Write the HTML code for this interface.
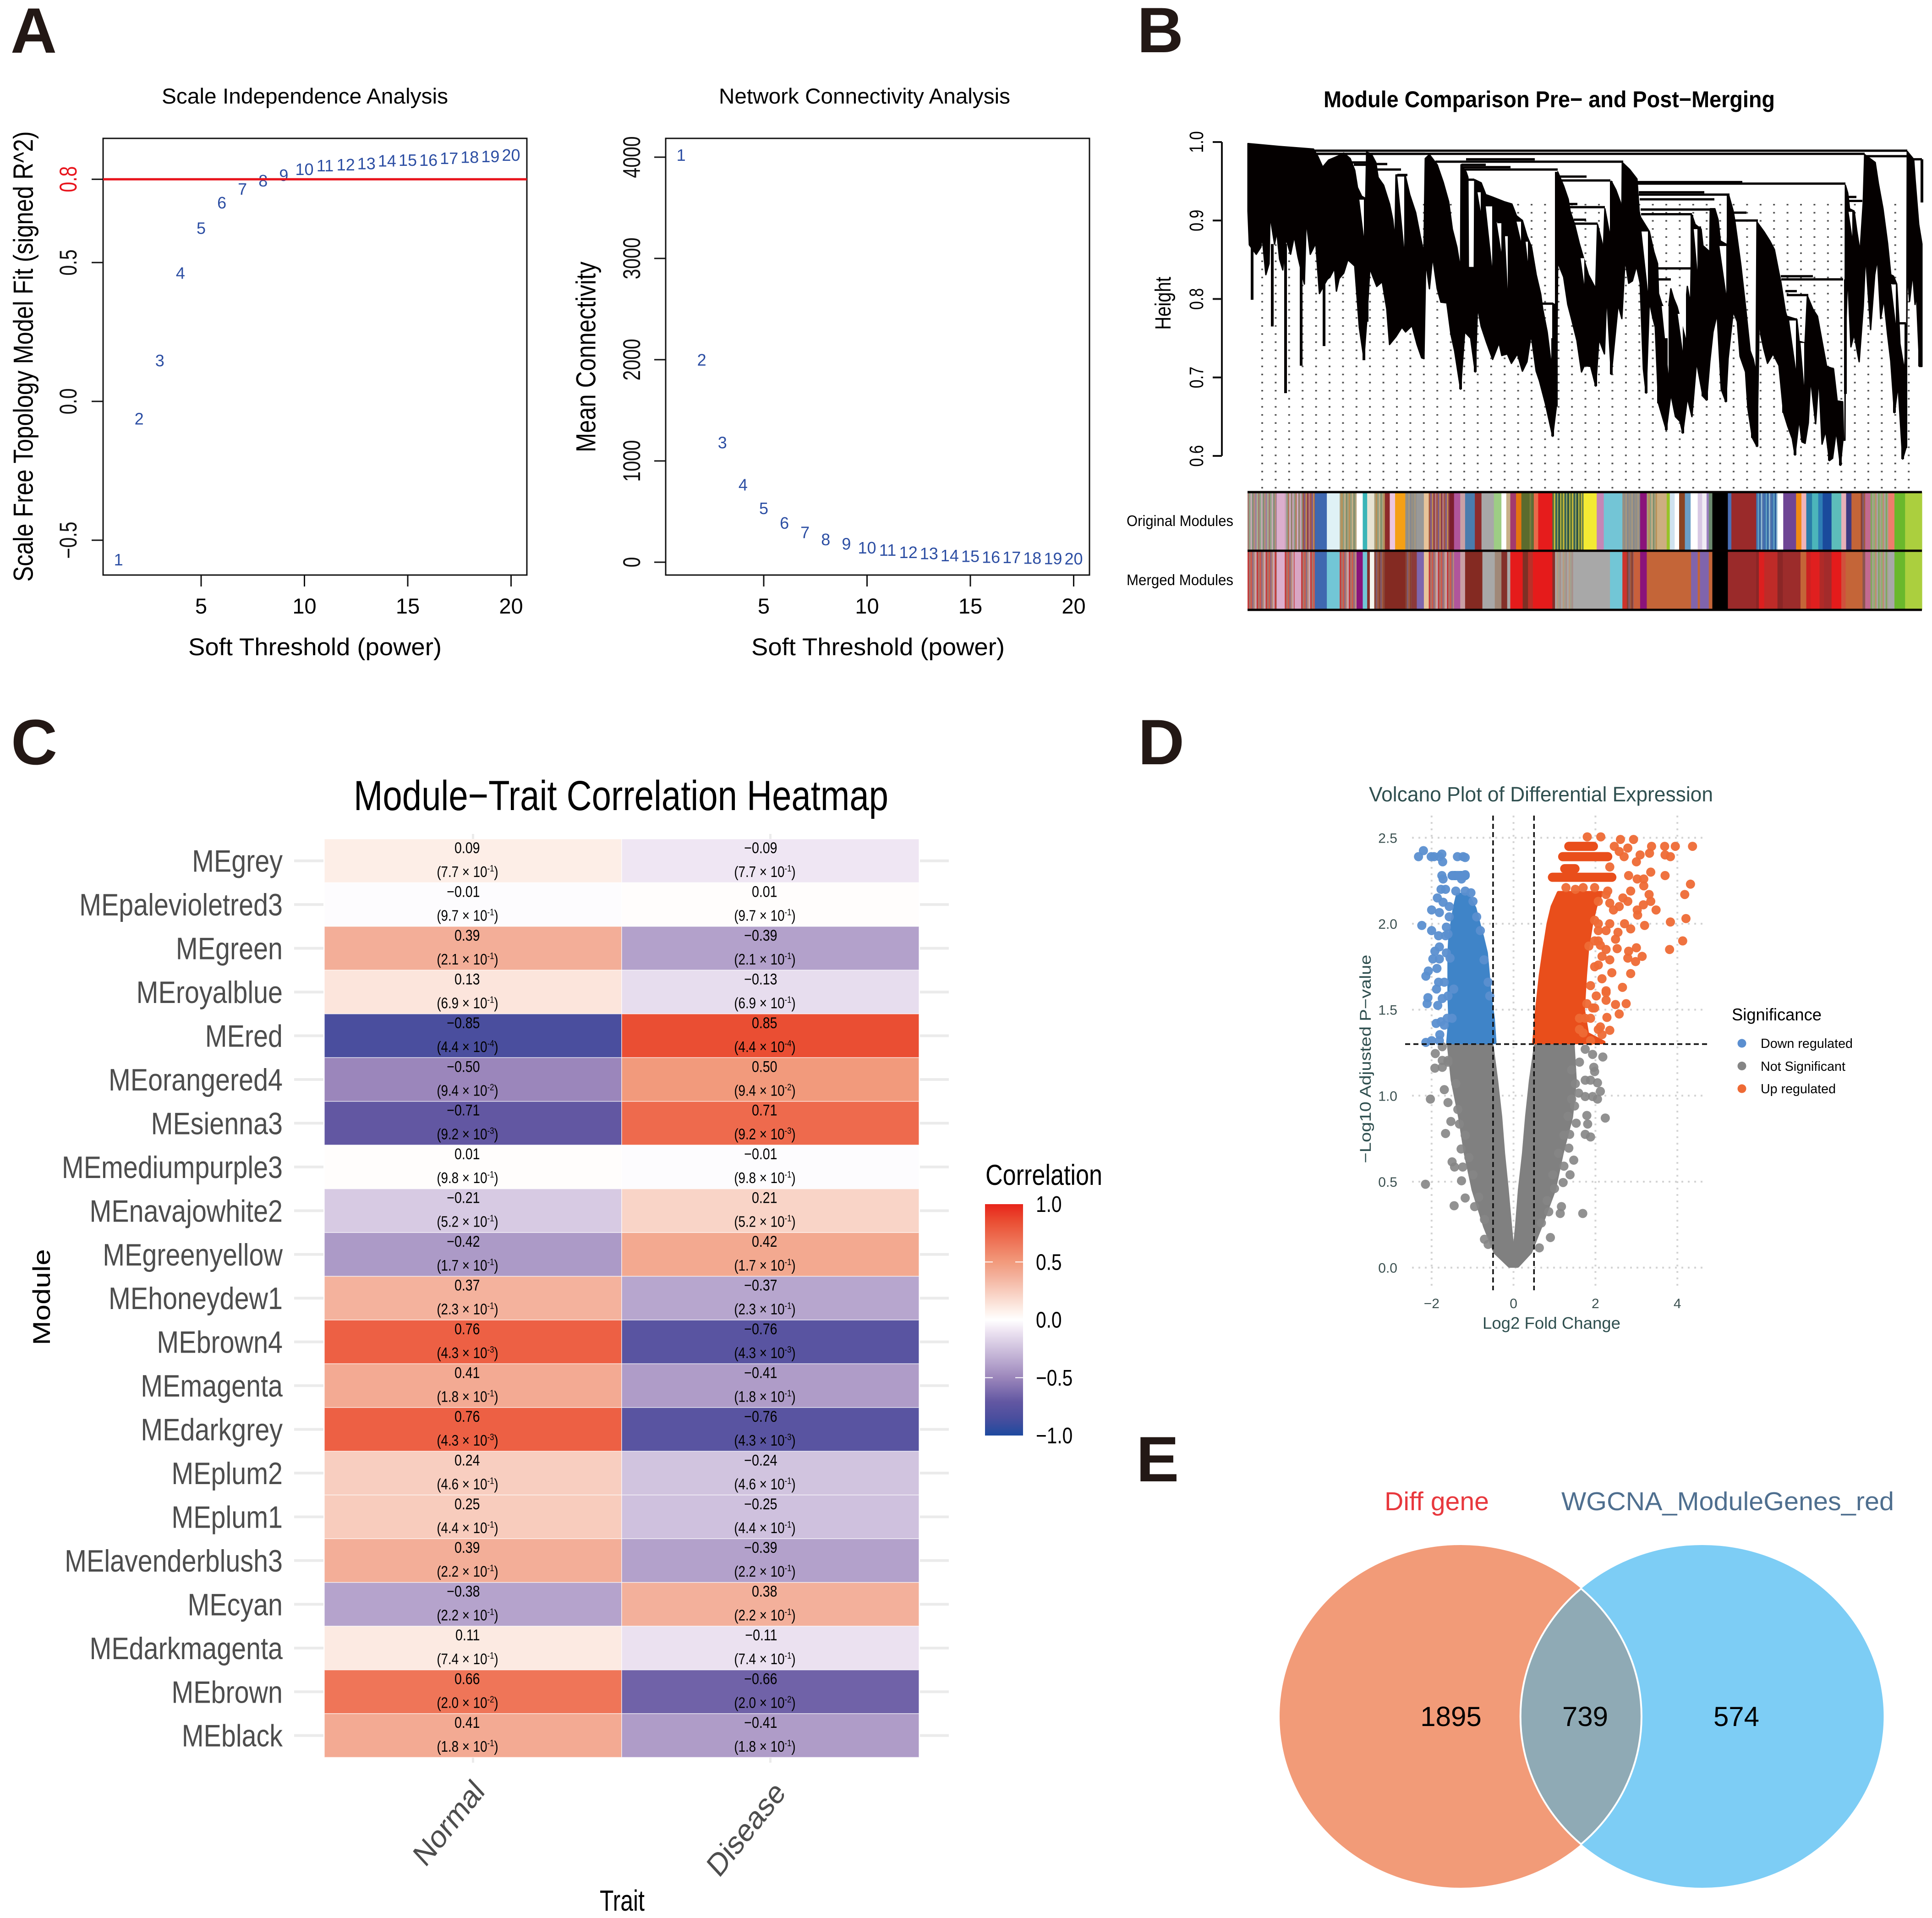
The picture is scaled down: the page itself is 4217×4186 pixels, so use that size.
<!DOCTYPE html>
<html lang="en">
<head>
<meta charset="utf-8">
<title>WGCNA and differential expression figure</title>
<style>
html,body{margin:0;padding:0;background:#fff;}
svg{display:block;}
svg text{font-family:"Liberation Sans",sans-serif;}
.letter{font-size:140px;font-weight:700;fill:#231815;}
</style>
</head>
<body>
<svg id="fig" xmlns="http://www.w3.org/2000/svg" width="4217" height="4186" viewBox="0 0 4217 4186">
<defs>
<linearGradient id="corrGrad" x1="0" y1="0" x2="0" y2="1">
<stop offset="0" stop-color="#e8241a"/><stop offset=".075" stop-color="#ea4e33"/><stop offset=".25" stop-color="#f29a7c"/><stop offset=".305" stop-color="#f3ae98"/><stop offset=".455" stop-color="#fdeee7"/><stop offset=".5" stop-color="#ffffff"/><stop offset=".545" stop-color="#efe6f3"/><stop offset=".695" stop-color="#b3a1cb"/><stop offset=".75" stop-color="#9b86bb"/><stop offset=".855" stop-color="#6257a2"/><stop offset=".925" stop-color="#4a4e9e"/><stop offset="1" stop-color="#1e4a9f"/>
</linearGradient>
</defs>
<rect x="0" y="0" width="4217" height="4186" fill="#fff"/>

<text class="letter" x="23" y="115">A</text>
<text class="letter" x="2482" y="114">B</text>
<text class="letter" x="24" y="1668">C</text>
<text class="letter" x="2484" y="1668">D</text>
<text class="letter" x="2480" y="3233">E</text>

<!-- Panel A -->
<g id="a1">
<text x="353" y="226" font-size="47" textLength="625" lengthAdjust="spacingAndGlyphs">Scale Independence Analysis</text>
<text x="411" y="1430" font-size="53" textLength="553" lengthAdjust="spacingAndGlyphs">Soft Threshold (power)</text>
<text transform="translate(50,778) scale(1.2,1) rotate(-90)" y="18" text-anchor="middle" font-size="50" textLength="983" lengthAdjust="spacingAndGlyphs">Scale Free Topology Model Fit (signed R^2)</text>
</g>
<g id="a2">
<text x="1569" y="226" font-size="47" textLength="636" lengthAdjust="spacingAndGlyphs">Network Connectivity Analysis</text>
<text x="1640" y="1430" font-size="53" textLength="553" lengthAdjust="spacingAndGlyphs">Soft Threshold (power)</text>
<text transform="translate(1278,779) scale(1.2,1) rotate(-90)" y="18" text-anchor="middle" font-size="50" textLength="416" lengthAdjust="spacingAndGlyphs">Mean Connectivity</text>
</g>

<!-- Panel B -->
<g id="b">
<text x="2889" y="234" font-size="50" font-weight="700" textLength="985" lengthAdjust="spacingAndGlyphs">Module Comparison Pre− and Post−Merging</text>
<text transform="translate(2538,662) scale(1.2,1) rotate(-90)" y="14" text-anchor="middle" font-size="40">Height</text>
<text x="2692" y="1148" text-anchor="end" font-size="33" textLength="233" lengthAdjust="spacingAndGlyphs">Original Modules</text>
<text x="2692" y="1277" text-anchor="end" font-size="33" textLength="233" lengthAdjust="spacingAndGlyphs">Merged Modules</text>
</g>

<!-- Panel C -->
<g id="c">
<text x="772" y="1768" font-size="92" textLength="1167" lengthAdjust="spacingAndGlyphs">Module−Trait Correlation Heatmap</text>
<text transform="translate(91,2831) scale(.82,1) rotate(-90)" y="22" text-anchor="middle" font-size="64">Module</text>
<text x="1309" y="4170" font-size="64" textLength="98" lengthAdjust="spacingAndGlyphs">Trait</text>
<text x="2151" y="2586" font-size="63" textLength="255" lengthAdjust="spacingAndGlyphs">Correlation</text>
<rect x="2150" y="2628" width="83" height="505" fill="url(#corrGrad)"/>
</g>

<!-- Panel D -->
<g id="d"></g>
<g>
<text x="2988" y="1749" font-size="45" fill="#2f4f4f" textLength="751" lengthAdjust="spacingAndGlyphs">Volcano Plot of Differential Expression</text>
<text x="3236" y="2900" font-size="36" fill="#2f4f4f" textLength="301" lengthAdjust="spacingAndGlyphs">Log2 Fold Change</text>
<text transform="translate(2980,2311) rotate(-90)" y="12" text-anchor="middle" font-size="34" fill="#2f4f4f" textLength="455" lengthAdjust="spacingAndGlyphs">−Log10 Adjusted P−value</text>
<text x="3780" y="2227" font-size="37" textLength="196" lengthAdjust="spacingAndGlyphs">Significance</text>
<text x="3843" y="2287" font-size="29" textLength="201" lengthAdjust="spacingAndGlyphs">Down regulated</text>
<text x="3843" y="2337" font-size="29" textLength="185" lengthAdjust="spacingAndGlyphs">Not Significant</text>
<text x="3843" y="2386" font-size="29" textLength="164" lengthAdjust="spacingAndGlyphs">Up regulated</text>
<circle cx="3802" cy="2277" r="9.5" fill="#5b8fd0"/>
<circle cx="3802" cy="2326.5" r="9.5" fill="#858585"/>
<circle cx="3802" cy="2376" r="9.5" fill="#ee6a35"/>
</g>

<!-- Panel E -->
<g id="e">
<text x="3022" y="3296" font-size="57" fill="#e8383d" textLength="228" lengthAdjust="spacingAndGlyphs">Diff gene</text>
<text x="3408" y="3296" font-size="57" fill="#4f6f8f" textLength="726" lengthAdjust="spacingAndGlyphs">WGCNA_ModuleGenes_red</text>
<ellipse cx="3188" cy="3746" rx="395" ry="374" fill="#f29b78"/>
<ellipse cx="3715.5" cy="3746" rx="396" ry="374" fill="#7dcdf5"/>
<path d="M3451 3467 A395 374 0 0 1 3451 4025 A396 374 0 0 1 3451 3467 Z" fill="#8faab5" stroke="#fff" stroke-width="4"/>
<text x="3167" y="3767" text-anchor="middle" font-size="60">1895</text>
<text x="3460" y="3767" text-anchor="middle" font-size="60">739</text>
<text x="3790" y="3767" text-anchor="middle" font-size="60">574</text>
</g>
</svg>

<script>
const NS='http://www.w3.org/2000/svg';
function el(tag,attrs,parent,text){
  const e=document.createElementNS(NS,tag);
  for(const k in attrs)e.setAttribute(k,attrs[k]);
  if(text!==undefined)e.textContent=text;
  parent.appendChild(e);
  return e;
}
</script>

<script>
/* Panel A data */
const softPowers=[1,2,3,4,5,6,7,8,9,10,11,12,13,14,15,16,17,18,19,20];
const scaleFitR2=[-0.569,-0.062,0.148,0.463,0.625,0.716,0.766,0.795,0.815,0.837,0.85,0.853,0.857,0.867,0.87,0.87,0.876,0.88,0.883,0.888];
const meanConnectivity=[4022,2000,1183,768,534,390,296,227,183,144,122,100,89,69,61,53,50,44,39,36];
const powerTicks=[5,10,15,20];
const fitTicks=[-0.5,0,0.5,0.8];
const fitTickLabels=['−0.5','0.0','0.5','0.8'];
const connectivityTicks=[0,1000,2000,3000,4000];
const connectivityTickLabels=['0','1000','2000','3000','4000'];
const r2Cutoff=[0.8];

function drawSoftPlot(g,left,xs,ys,values,yTicks,yLabels,labelX){
  const frame=el('rect',{x:left,y:302,width:925,height:953,fill:'none',stroke:'#111','stroke-width':3},g);
  
  
  powerTicks.forEach(v=>{
    const t=el('line',{x1:xs(v),x2:xs(v),y1:1255,y2:1280,stroke:'#111','stroke-width':3},g);
    
    
    const l=el('text',{x:xs(v),y:1339,'text-anchor':'middle','font-size':47},g,String(v));
    
    
  });
  yTicks.forEach((v,i)=>{
    const t=el('line',{x1:left-25,x2:left,y1:ys(v),y2:ys(v),stroke:'#111','stroke-width':3},g);
    
    
    const isCut=r2Cutoff.includes(v)&&left<1000;
    const l=el('text',{transform:'translate('+labelX+','+ys(v)+') scale(1.28,1) rotate(-90)',y:15,'text-anchor':'middle','font-size':41,fill:isCut?'#e8141c':'#111'},g,yLabels[i]);
    
    
  });
  softPowers.forEach((p,i)=>{
    const t=el('text',{x:xs(p),y:ys(values[i])+13,'text-anchor':'middle','font-size':36,fill:'#2c4ea3'},g,String(p));
    
    
  });
}
const xFit=v=>439+(v-5)*45.1;
const yFit=v=>876-606*v;
const xConn=v=>1667+(v-5)*45.1;
const yConn=v=>1227-0.221*v;
drawSoftPlot(document.getElementById('a1'),225,xFit,yFit,scaleFitR2,fitTicks,fitTickLabels,148);
drawSoftPlot(document.getElementById('a2'),1453,xConn,yConn,meanConnectivity,connectivityTicks,connectivityTickLabels,1378);
const cutoffLine=el('line',{x1:225,x2:1150,y1:yFit(r2Cutoff[0]),y2:yFit(r2Cutoff[0]),stroke:'#e8141c','stroke-width':5},document.getElementById('a1'));


</script>

<script>
/* Panel B data: leaf order along the tree, merge height on the y axis */
const dendroHeightTicks=[0.6,0.7,0.8,0.9,1.0];
const dendroTop=[[0,.998],[76,.994],[143,.991],[153,.981],[163,.968],[176,.977],[196,.982],[209,.986],[223,.979],[233,.964],[239,.942],[248,.931],[257,.928],[259,.987],[269,.985],[279,.974],[284,.955],[296,.945],[309,.921],[316,.901],[321,.874],[323,.958],[343,.958],[353,.933],[366,.910],[376,.880],[384,.858],[387,.979],[396,.984],[413,.971],[426,.949],[438,.924],[446,.889],[456,.866],[464,.837],[465,.971],[476,.962],[480,.955],[481,.84],[494,.84],[495,.952],[509,.948],[519,.933],[533,.930],[559,.924],[576,.921],[586,.906],[599,.900],[609,.880],[619,.866],[629,.831],[639,.806],[643,.788],[653,.758],[659,.730],[666,.700],[667,.794],[673,.778],[676,.962],[689,.944],[699,.927],[703,.912],[713,.895],[723,.871],[733,.851],[743,.831],[759,.813],[763,.895],[773,.871],[775,.85],[779,.915],[791,.877],[793,.950],[803,.939],[813,.923],[816,.90],[817,.974],[833,.965],[849,.953],[854,.910],[857,.904],[876,.886],[886,.860],[894,.845],[896,.807],[903,.794],[916,.778],[923,.813],[929,.801],[943,.781],[953,.775],[959,.816],[966,.793],[969,.907],[976,.895],[989,.889],[993,.868],[1008,.86],[1009,.915],[1019,.915],[1026,.901],[1031,.874],[1046,.869],[1049,.933],[1059,.912],[1063,.898],[1076,.842],[1086,.790],[1096,.734],[1103,.723],[1109,.705],[1111,.898],[1126,.886],[1139,.874],[1149,.863],[1159,.833],[1163,.822],[1173,.784],[1176,.778],[1198,.774],[1203,.746],[1216,.744],[1221,.804],[1233,.787],[1243,.778],[1253,.746],[1263,.714],[1278,.711],[1286,.670],[1298,.669],[1300,.62],[1303,.62],[1304,.945],[1309,.935],[1313,.915],[1323,.912],[1329,.886],[1336,.860],[1343,.924],[1346,.984],[1369,.974],[1376,.947],[1386,.915],[1396,.871],[1403,.831],[1409,.829],[1416,.819],[1421,.769],[1423,.743],[1433,.708],[1438,.769],[1439,.988],[1453,.978],[1456,.953],[1464,.895],[1471,.87]];
const dendroBottom=[[0,.912],[3,.869],[18,.857],[28,.866],[31,.880],[39,.831],[46,.845],[48,.907],[58,.87],[63,.886],[69,.851],[76,.837],[83,.877],[93,.857],[101,.880],[109,.854],[123,.819],[127,.901],[136,.857],[148,.871],[156,.807],[173,.825],[179,.828],[189,.839],[193,.810],[199,.826],[209,.833],[218,.850],[233,.842],[243,.764],[253,.724],[259,.771],[266,.839],[273,.828],[281,.816],[293,.822],[303,.787],[309,.742],[323,.752],[336,.764],[344,.758],[358,.766],[369,.742],[379,.725],[384,.724],[388,.848],[396,.813],[403,.854],[413,.813],[421,.796],[434,.795],[443,.755],[451,.734],[464,.685],[473,.758],[486,.750],[496,.707],[501,.790],[509,.765],[521,.744],[534,.723],[548,.744],[554,.728],[566,.730],[575,.718],[588,.730],[599,.708],[609,.720],[618,.755],[629,.708],[636,.696],[649,.667],[665,.625],[673,.663],[676,.847],[689,.828],[698,.793],[706,.775],[718,.747],[728,.707],[734,.715],[748,.714],[759,.689],[766,.749],[778,.730],[783,.807],[793,.704],[808,.793],[816,.775],[823,.851],[831,.820],[839,.823],[848,.842],[856,.82],[863,.711],[869,.680],[876,.797],[884,.775],[889,.764],[896,.667],[913,.633],[923,.679],[933,.650],[943,.644],[949,.629],[959,.674],[969,.650],[979,.720],[993,.676],[1001,.671],[1008,.720],[1015,.758],[1024,.781],[1033,.685],[1043,.669],[1048,.724],[1059,.784],[1068,.771],[1074,.727],[1086,.707],[1091,.661],[1101,.623],[1111,.612],[1116,.784],[1119,.755],[1126,.736],[1134,.718],[1146,.730],[1159,.715],[1169,.655],[1178,.638],[1188,.622],[1194,.601],[1203,.647],[1209,.618],[1216,.616],[1223,.642],[1228,.699],[1239,.641],[1246,.701],[1253,.615],[1261,.632],[1269,.594],[1276,.597],[1284,.632],[1293,.588],[1299,.623],[1303,.62],[1304,.75],[1309,.833],[1316,.739],[1323,.755],[1334,.720],[1343,.791],[1348,.857],[1359,.761],[1368,.831],[1374,.851],[1381,.775],[1388,.800],[1396,.755],[1403,.721],[1411,.655],[1419,.690],[1429,.596],[1436,.610],[1439,.837],[1444,.797],[1451,.833],[1456,.793],[1459,.807],[1466,.714],[1471,.714]];
const dendroSpikes=[[9,.87,.799],[53,.87,.765],[82,.87,.680],[116,.85,.715],[166,.85,.740],[253,.85,.722],[260,.84,.771],[464,.80,.685],[496,.80,.707],[665,.75,.625],[673,.962,.663],[759,.78,.689],[793,.95,.704],[869,.80,.680],[896,.80,.667],[913,.75,.633],[949,.72,.629],[993,.75,.676],[1001,.75,.671],[1043,.75,.669],[1111,.70,.612],[1101,.70,.623],[1169,.75,.655],[1194,.70,.601],[1269,.65,.594],[1293,.65,.588],[1304,.825,.679],[1411,.72,.655],[1429,.70,.596],[1436,.769,.610],[1466,.85,.714],[1471,.978,.923],[969,.907,.839],[1048,.933,.86],[667,.794,.68]];
/* open wedges under merges: [left order, right order, upper height, lower height] */
const dendroGaps=[[243,253,.927,.880],[326,341,.956,.866],[501,508,.936,.912],[519,533,.918,.842],[543,553,.898,.860],[561,567,.880,.813],[586,596,.899,.874],[606,611,.873,.848],[726,734,.852,.819],[859,873,.886,.810],[903,918,.791,.705],[928,956,.813,.75],[938,949,.781,.734],[973,981,.889,.837],[1029,1044,.868,.807],[1181,1196,.774,.711],[1206,1214,.744,.690],[1311,1319,.911,.880],[1404,1414,.819,.769]];
const dendroMerges=[[143,1439,.989],[143,1346,.985],[1346,1439,.982],[409,819,.975],[476,626,.978],[466,519,.971],[466,573,.968],[466,676,.965],[678,739,.956],[683,791,.951],[699,719,.921],[703,779,.917],[711,738,.901],[713,763,.896],[850,1079,.949],[850,1304,.947],[853,996,.936],[853,1051,.933],[855,1018,.927],[857,1009,.914],[858,969,.908],[1061,1088,.910],[1063,1113,.900],[893,969,.839],[894,923,.825],[1163,1233,.829],[1164,1299,.825],[1173,1198,.810],[1176,1223,.805],[1179,1198,.774],[1263,1278,.711],[1309,1328,.930],[1309,1341,.925],[1406,1416,.820],[1421,1436,.769],[269,386,.985],[151,196,.985],[226,259,.974],[231,259,.971],[243,256,.928],[273,304,.972],[281,334,.965],[326,348,.958],[481,494,.952],[518,576,.920],[544,559,.898],[586,599,.900],[641,666,.794],[1029,1046,.869],[979,989,.891],[1439,1471,.978]];
/* module stripes: [gene rank where the stripe ends, colour or palette key] */
const stripePalettes={
  fine:['#a5786f','#8fa88a','#c9a9b6','#7f8f78','#b98c7a','#9a7fa0','#a8b090'],
  pinkmix:['#c9a0b8','#8f9f88','#b2785e','#d0b0c8','#90806a'],
  tan:['#a9a07c','#b98f55','#8e9f80','#c8b088','#7d8f6d'],
  brownpur:['#a5553f','#7e5a8c','#c08a50','#8c3a4a','#b47a80'],
  darkgreen:['#4f6f3a','#c8b83a','#2b5b5a','#8f9f55','#1f4a44','#a9aa40'],
  graymix:['#9a8f80','#8d8f8c','#a8987e','#85888f'],
  olive:['#5b6b2d','#7b7f3a','#5f6f40'],
  blumix:['#3f70b0','#5f9fc0','#2d5fa0','#8fb8d0','#4f6fa8'],
  redmix:['#c43a3a','#a5786f','#d05a4a','#8f6a80','#b98c7a','#c9a9b6'],
  brownmix:['#8a4030','#7e5a70','#a05a40'],
  graytan:['#a8a8a8','#b89a80','#a0a090','#a88f8a'],
  greengray:['#7fa860','#a8a090','#8fb070','#c08a70','#a5a5a5']
};
const moduleOriginal=[[90,'fine'],[108,'#dcaecd'],[148,'pinkmix'],[176,'brownpur'],[203,'#3f68b0'],[232,'#dff1f5'],[270,'tan'],[284,'#ffffff'],[294,'#3bb5b8'],[310,'#e8e4d4'],[334,'tan'],[345,'#8d2a2a'],[357,'#ecc6df'],[380,'#f5a015'],[405,'graymix'],[422,'#999999'],[433,'#e8c49a'],[480,'brownpur'],[490,'#7c1f2e'],[504,'#b0559b'],[515,'#c9a0a5'],[537,'#4a7cad'],[552,'#8e2b2b'],[580,'#a8a8a8'],[597,'#9dcd84'],[608,'#ffffff'],[617,'#c8b088'],[630,'#a33a6e'],[642,'#e4740f'],[657,'#5b6b2d'],[670,'olive'],[680,'#e9694a'],[712,'#e61c1c'],[782,'darkgreen'],[812,'#f3ea33'],[828,'#c586b6'],[870,'#73c5d6'],[910,'graymix'],[925,'#8a137a'],[948,'tan'],[970,'#cdae80'],[977,'#98c228'],[988,'#cfe2f0'],[998,'#ffffff'],[1011,'#8a4524'],[1024,'#6a9fc8'],[1040,'#ffffff'],[1050,'#d8c8e4'],[1060,'#f0ecf4'],[1065,'#9a7fc0'],[1073,'#6b8a6e'],[1108,'#000000'],[1116,'#4a6fb5'],[1172,'#9a2a2a'],[1190,'blumix'],[1220,'blumix'],[1233,'#ffffff'],[1262,'#6f4595'],[1274,'#f08a12'],[1285,'#efb4b8'],[1298,'#2a7ca8'],[1312,'#4cb5ba'],[1322,'#2e7db5'],[1342,'#1a4a9c'],[1364,'#5dbdba'],[1375,'#e8b0b8'],[1387,'#3f3a82'],[1408,'#c46538'],[1418,'brownmix'],[1430,'#c26a90'],[1470,'greengray'],[1484,'#ee7d6c'],[1508,'#6ab82c'],[1546,'#abcf3e']];
const moduleMerged=[[90,'redmix'],[108,'#dcaecd'],[130,'redmix'],[145,'#d9a5c4'],[176,'redmix'],[203,'#3f68b0'],[232,'#72c6d6'],[270,'redmix'],[284,'#8a137a'],[294,'#72c6d6'],[300,'#84302a'],[310,'#f5f5ee'],[334,'brownmix'],[380,'#842a22'],[394,'brownmix'],[406,'#8c3a3a'],[422,'#7e66ae'],[433,'#e8c49a'],[490,'redmix'],[504,'#b0559b'],[515,'#c9a0a5'],[554,'#842a22'],[582,'#a8a8a8'],[597,'#a08878'],[610,'#84302a'],[617,'#a8a8a8'],[645,'#e51b1b'],[657,'#7e3025'],[668,'#b9312a'],[712,'#e51b1b'],[718,'#84302a'],[762,'graytan'],[842,'#a8a8a8'],[870,'#72c6d6'],[880,'#cc332c'],[895,'brownmix'],[910,'#c8603c'],[925,'#8a137a'],[1025,'#c46538'],[1040,'#8064ac'],[1045,'#c46538'],[1065,'#8064ac'],[1073,'#c46538'],[1108,'#000000'],[1172,'#9a2a2a'],[1178,'#8a2626'],[1190,'#dd1f1f'],[1220,'#bf2b28'],[1232,'#8a2626'],[1272,'#9c2c2b'],[1285,'#c46538'],[1295,'#cc2222'],[1315,'#e01f1f'],[1325,'#b02a28'],[1342,'#a32b2b'],[1364,'#e51b1b'],[1374,'#d0503c'],[1412,'#c46538'],[1418,'#8a5550'],[1430,'#c26a90'],[1470,'greengray'],[1484,'#a8a8a8'],[1508,'#6ab82c'],[1546,'#abcf3e']];

const dendroG=document.getElementById('b');
const xLeaf=o=>2724+o;
const yHeight=h=>310+(1-h)*1712.5;
const xGene=r=>2723+(r-24)*(1472/1522);

/* leaf guide dots */
for(let c=0;c<49;c++){
  const cx=2755+29.4*c;
  const guide=el('line',{x1:cx,x2:cx,y1:445,y2:1068,stroke:'#555','stroke-width':4,'stroke-dasharray':'3.4 14.25'},dendroG);
  
  
}
const massPts=dendroTop.map(p=>xLeaf(p[0])+','+yHeight(p[1])).concat(dendroBottom.slice().reverse().map(p=>xLeaf(p[0])+','+yHeight(p[1]))).join(' ');
const mass=el('polygon',{points:massPts,fill:'#040000',stroke:'#040000','stroke-width':3,'stroke-linejoin':'round'},dendroG);


dendroGaps.forEach(w=>{
  const pts=[[w[0],w[2]],[w[1],w[2]],[w[1],w[3]]].map(p=>xLeaf(p[0])+','+yHeight(p[1])).join(' ');
  const gap=el('polygon',{points:pts,fill:'#fff'},dendroG);
  
  
});
dendroSpikes.forEach(s=>{
  const l=el('line',{x1:xLeaf(s[0]),x2:xLeaf(s[0]),y1:yHeight(s[1]),y2:yHeight(s[2]),stroke:'#040000','stroke-width':6},dendroG);
  
  
});
dendroMerges.forEach(m=>{
  const l=el('line',{x1:xLeaf(m[0]),x2:xLeaf(m[1]),y1:yHeight(m[2]),y2:yHeight(m[2]),stroke:'#040000','stroke-width':5},dendroG);
  
  
});
const dendroAxis=el('line',{x1:2667,x2:2667,y1:yHeight(1),y2:yHeight(.6),stroke:'#111','stroke-width':4},dendroG);


dendroHeightTicks.forEach(v=>{
  const t=el('line',{x1:2647,x2:2667,y1:yHeight(v),y2:yHeight(v),stroke:'#111','stroke-width':4},dendroG);
  
  
  const l=el('text',{transform:'translate(2611,'+yHeight(v)+') scale(1.25,1) rotate(-90)',y:12,'text-anchor':'middle','font-size':34},dendroG,v.toFixed(1));
  
  
});
function drawModuleBar(segs,y,h,name){
  let start=24;
  segs.forEach(s=>{
    const pal=stripePalettes[s[1]];
    if(pal){
      let r=start,i=0;
      while(r<s[0]){
        const e=Math.min(r+3.4,s[0]);
        const b=el('rect',{x:xGene(r),y:y,width:xGene(e)-xGene(r)+.6,height:h,fill:pal[i%pal.length]},dendroG);
        
        
        r=e;i++;
      }
    }else{
      const b=el('rect',{x:xGene(start),y:y,width:xGene(s[0])-xGene(start)+.6,height:h,fill:s[1]},dendroG);
      
      
    }
    start=s[0];
  });
}
drawModuleBar(moduleOriginal,1074,128,'original-module-stripe');
drawModuleBar(moduleMerged,1202,129,'merged-module-stripe');
[1074,1202,1331].forEach(y=>{
  const l=el('rect',{x:2723,y:y-2.5,width:1472,height:5,fill:'#040000'},dendroG);
  
  
});
</script>

<script>
/* Panel C data */
const moduleNames=['MEgrey','MEpalevioletred3','MEgreen','MEroyalblue','MEred','MEorangered4','MEsienna3','MEmediumpurple3','MEnavajowhite2','MEgreenyellow','MEhoneydew1','MEbrown4','MEmagenta','MEdarkgrey','MEplum2','MEplum1','MElavenderblush3','MEcyan','MEdarkmagenta','MEbrown','MEblack'];
const traitNames=['Normal','Disease'];
const corrNormal=[0.09,-0.01,0.39,0.13,-0.85,-0.50,-0.71,0.01,-0.21,-0.42,0.37,0.76,0.41,0.76,0.24,0.25,0.39,-0.38,0.11,0.66,0.41];
const corrDisease=[-0.09,0.01,-0.39,-0.13,0.85,0.50,0.71,-0.01,0.21,0.42,-0.37,-0.76,-0.41,-0.76,-0.24,-0.25,-0.39,0.38,-0.11,-0.66,-0.41];
const pMantissa=['7.7','9.7','2.1','6.9','4.4','9.4','9.2','9.8','5.2','1.7','2.3','4.3','1.8','4.3','4.6','4.4','2.2','2.2','7.4','2.0','1.8'];
const pExponent=['-1','-1','-1','-1','-4','-2','-3','-1','-1','-1','-1','-3','-1','-3','-1','-1','-1','-1','-1','-2','-1'];
const colorbarTicks=[1,0.5,0,-0.5,-1];
const colorbarTickLabels=['1.0','0.5','0.0','−0.5','−1.0'];
const corrStops=[[-1,[30,74,159]],[-.85,[74,78,158]],[-.71,[98,87,162]],[-.5,[155,134,187]],[-.39,[179,161,203]],[-.09,[239,230,243]],[0,[255,255,255]],[.09,[253,238,231]],[.39,[243,174,152]],[.5,[242,154,124]],[.71,[238,106,77]],[.85,[234,78,51]],[1,[232,36,26]]];

function corrColor(v){
  for(let i=1;i<corrStops.length;i++){
    if(v<=corrStops[i][0]){
      const a=corrStops[i-1],b=corrStops[i],t=(v-a[0])/(b[0]-a[0]);
      const c=a[1].map((q,k)=>Math.round(q+(b[1][k]-q)*t));
      return 'rgb('+c.join(',')+')';
    }
  }
  return 'rgb(232,36,26)';
}
const heatG=document.getElementById('c');
const heatLeft=708,heatColW=649,heatTop=1831,heatRowH=95.45;
const xCol=i=>heatLeft+heatColW*i;
const yRow=i=>heatTop+heatRowH*i;
function fmtCorr(v){return (v<0?'−':'')+Math.abs(v).toFixed(2);}

moduleNames.forEach((name,i)=>{
  const cy=yRow(i)+heatRowH/2;
  const stubL=el('line',{x1:642,x2:706,y1:cy,y2:cy,stroke:'#ebebeb','stroke-width':6},heatG);
  
  
  const stubR=el('line',{x1:2008,x2:2071,y1:cy,y2:cy,stroke:'#ebebeb','stroke-width':6},heatG);
  
  
  const lab=el('text',{transform:'translate(617,'+(cy+24)+') scale(.845,1)','text-anchor':'end','font-size':68,fill:'#4d4d4d'},heatG,name);
  
  
  [corrNormal[i],corrDisease[i]].forEach((v,c)=>{
    const cell=el('rect',{x:xCol(c),y:yRow(i),width:heatColW,height:heatRowH,fill:corrColor(v),stroke:'#fff','stroke-width':1.5,'stroke-opacity':.7},heatG);
    
    
    const cc=xCol(c)+heatColW/2;
    const t1=el('text',{transform:'translate('+(cc+15)+','+(yRow(i)+31)+') scale(.84,1)','text-anchor':'end','font-size':34},heatG,fmtCorr(v));
    
    
    const t2=el('text',{transform:'translate('+(cc-12)+','+(yRow(i)+83)+') scale(.84,1)','text-anchor':'middle','font-size':33},heatG);
    
    
    const a=el('tspan',{},t2,'('+pMantissa[i]+' × 10');
    
    
    const sup=el('tspan',{dy:-12,'font-size':20},t2,pExponent[i]);
    
    
    const z=el('tspan',{dy:12},t2,')');
    
    
  });
});
traitNames.forEach((name,c)=>{
  const cc=xCol(c)+heatColW/2;
  [[1820,1831],[3836,3847]].forEach(r=>{
    const st=el('line',{x1:cc,x2:cc,y1:r[0],y2:r[1],stroke:'#ebebeb','stroke-width':5},heatG);
    
    
  });
  const t=el('text',{transform:'translate('+(cc-52)+','+(3980+c*13)+') scale(.86,1) rotate(-47)',y:22,'text-anchor':'middle','font-size':70,fill:'#4d4d4d'},heatG,name);
  
  
});
const yBar=v=>2880.5-252.5*v;
colorbarTicks.forEach((v,i)=>{
  const t=el('text',{transform:'translate(2261,'+(yBar(v)+17)+') scale(.83,1)','font-size':49},heatG,colorbarTickLabels[i]);
  
  
  if(Math.abs(v)<1&&v!==0){
    [[2150,2167],[2216,2233]].forEach(r=>{
      const k=el('line',{x1:r[0],x2:r[1],y1:yBar(v),y2:yBar(v),stroke:'#fff','stroke-width':2},heatG);
      
      
    });
  }
});
</script>

<script>
/* Panel D data */
const volcanoXTicks=[-2,0,2,4];
const volcanoXTickLabels=['−2','0','2','4'];
const volcanoYTicks=[0,0.5,1,1.5,2,2.5];
const volcanoThresholds={logFC:[-0.5,0.5],logP:[1.3]};
/* dense cloud outlines: [-log10 p, left log2FC, right log2FC] */
const denseDownRows=[[2.17,-1.36,-1.13],[2.09,-1.44,-.95],[2.0,-1.5,-.85],[1.92,-1.55,-.76],[1.83,-1.57,-.67],[1.70,-1.57,-.62],[1.58,-1.57,-.58],[1.45,-1.55,-.5],[1.31,-1.6,-.46]];
const denseUpRows=[[2.18,1.1,2.15],[2.1,.95,2.0],[2.0,.85,1.9],[1.85,.75,1.8],[1.7,.66,1.75],[1.5,.57,1.7],[1.36,.52,1.8],[1.31,.5,2.2]];
/* gray V: [-log10 p, outer left, inner left, inner right, outer right] */
const denseGrayRows=[[1.29,-1.58,-.53,.54,1.45],[1.09,-1.49,-.42,.42,1.5],[.877,-1.31,-.32,.325,1.41],[.665,-1.17,-.25,.25,1.18],[.452,-.98,-.16,.15,.99],[.24,-.7,-.08,.08,.66],[.09,-.45,-.02,.02,.41],[.01,-.1,0,0,.1]];
/* tied-p value strips: [-log10 p, from, to] */
const upStrips=[[2.27,.95,2.4],[2.39,1.2,2.3],[2.45,1.35,1.95],[2.32,1.25,1.5]];
const downStrips=[[2.28,-1.5,-1.18]];
const upOutliers=[[1.80,2.505],[2.13,2.505],[2.61,2.49],[2.93,2.49],[4.37,2.45],[3.95,2.45],[3.69,2.45],[3.37,2.45],[2.46,2.45],[2.79,2.44],[2.58,2.42],[3.09,2.40],[3.32,2.41],[3.70,2.40],[3.83,2.39],[2.70,2.39],[3.0,2.36],[2.35,2.33],[3.35,2.30],[3.70,2.28],[3.02,2.26],[3.18,2.26],[2.81,2.28],[4.32,2.23],[3.18,2.22],[2.86,2.19],[4.18,2.17],[3.31,2.17],[2.67,2.15],[2.79,2.13],[3.35,2.13],[3.17,2.11],[3.48,2.08],[3.02,2.08],[2.58,2.10],[2.35,2.12],[3.03,2.05],[4.21,2.03],[3.83,2.01],[3.2,1.99],[2.86,1.97],[4.13,1.90],[3.81,1.85],[3.0,1.86],[2.81,1.84],[3.14,1.81],[2.79,1.80],[2.98,1.78],[2.86,1.71],[2.66,1.63],[2.75,1.535],[2.49,1.53],[2.58,1.475],[2.28,1.455],[2.35,1.38],[2.12,1.40],[2.53,1.855],[2.35,1.79],[2.4,1.715],[2.26,1.61],[2.26,1.555],[2.49,1.91],[2.26,1.96],[2.55,1.95],[2.71,2.0],[2.44,2.08],[2.07,2.0],[2.12,1.875],[2.07,1.76],[2.16,1.68],[1.98,1.51],[1.88,1.45],[1.98,2.02],[2.35,2.0],[2.26,1.85],[2.07,1.9],[2.16,1.81],[1.84,1.87],[1.98,1.75],[1.88,1.64],[2.26,1.6],[2.02,1.58],[1.79,1.535],[1.93,1.51],[1.75,1.45],[1.61,1.45],[1.7,1.365],[2.07,1.385],[2.16,1.355],[1.88,1.32],[1.61,1.385],[2.07,2.13],[2.26,2.17],[1.98,2.21],[1.7,2.21],[1.51,2.2],[1.28,2.21],[2.3,2.19],[2.07,1.96],[1.98,1.9]];
const downOutliers=[[-2.32,2.39],[-2.2,2.425],[-2.01,2.39],[-1.94,2.39],[-1.81,2.39],[-1.75,2.405],[-1.73,2.36],[-1.37,2.39],[-1.23,2.39],[-1.18,2.385],[-1.75,2.28],[-1.72,2.26],[-1.5,2.28],[-1.36,2.28],[-1.18,2.285],[-1.27,2.26],[-1.77,2.2],[-1.66,2.2],[-1.41,2.19],[-1.18,2.19],[-1.04,2.18],[-1.86,2.15],[-1.72,2.125],[-1.57,2.10],[-2.0,2.08],[-1.81,2.065],[-2.24,1.99],[-2.0,1.96],[-1.83,1.93],[-1.66,1.93],[-1.64,1.98],[-1.81,1.865],[-1.92,1.84],[-1.97,1.795],[-1.81,1.795],[-1.87,1.74],[-2.08,1.725],[-2.14,1.695],[-1.83,1.66],[-1.69,1.66],[-1.88,1.62],[-2.09,1.57],[-2.11,1.535],[-1.85,1.525],[-1.74,1.565],[-1.89,1.42],[-1.77,1.43],[-1.8,1.355],[-2.14,1.31],[-2.0,1.32],[-1.81,1.32],[-1.57,2.04],[-1.64,1.83],[-1.6,1.58],[-1.62,1.45],[-1.69,1.41],[-1.5,1.45],[-1.46,1.62],[-1.55,1.8],[-1.6,1.94],[-.99,2.13],[-.9,2.04],[-.81,1.96],[-.72,1.79],[-.62,1.66],[-.58,1.58]];
const grayOutliers=[[-1.91,1.245],[-1.74,1.285],[-1.92,1.16],[-1.74,1.205],[-1.74,1.165],[-1.6,1.205],[-2.03,.98],[-1.69,1.035],[-1.6,.96],[-1.53,.85],[-1.66,.78],[-1.5,.615],[-1.44,.585],[-1.27,.505],[-2.15,.485],[-1.18,.405],[-1.45,.36],[-1.24,.585],[-1.28,.69],[2.18,1.225],[1.93,1.24],[1.96,1.165],[1.75,1.27],[1.98,1.14],[2.05,1.075],[1.88,1.09],[1.75,1.09],[2.12,1.025],[1.93,.995],[2.05,.98],[1.59,1.015],[1.75,.995],[1.49,.94],[1.79,.885],[2.24,.87],[1.53,.84],[1.81,.835],[1.75,.775],[1.88,.76],[1.37,.775],[1.35,.695],[1.47,.625],[1.38,.54],[1.21,.495],[1.17,.355],[1.69,.315],[.9,.175],[1.0,.46],[.86,.325],[1.14,.315],[1.23,.59],[-.71,.165],[-.62,.135],[.63,.115],[-.95,.355],[-1.6,1.195],[-1.41,1.07],[-1.36,.92],[-1.32,.835],[-1.18,.77],[-1.09,.64],[-.99,.54],[-.85,.41],[-.71,.28],[1.61,1.195],[1.51,1.07],[1.42,.98],[1.33,.88],[1.23,.77],[1.1,.665],[.96,.54],[.82,.39],[.68,.26],[1.42,1.15]];

const volG=document.getElementById('d');
const xFC=v=>3303.6+89.4*v;
const yLP=v=>2766.6-375.3*v;

volcanoYTicks.forEach(v=>{
  const g=el('line',{x1:3082,x2:3726,y1:yLP(v),y2:yLP(v),stroke:'#d4d4d4','stroke-width':4,'stroke-dasharray':'4 10'},volG);
  
  
  const t=el('text',{x:3050,y:yLP(v)+11,'text-anchor':'end','font-size':30,fill:'#3b5050'},volG,v.toFixed(1));
  
  
});
volcanoXTicks.forEach((v,i)=>{
  const g=el('line',{x1:xFC(v),x2:xFC(v),y1:1780,y2:2812,stroke:'#d4d4d4','stroke-width':4,'stroke-dasharray':'4 10'},volG);
  
  
  const t=el('text',{x:xFC(v),y:2855,'text-anchor':'middle','font-size':30,fill:'#3b5050'},volG,volcanoXTickLabels[i]);
  
  
});
const grayPts=[]
  .concat(denseGrayRows.map(r=>xFC(r[1])+','+yLP(r[0])))
  .concat(denseGrayRows.slice().reverse().map(r=>xFC(r[4])+','+yLP(r[0])))
  .concat(denseGrayRows.map(r=>xFC(r[3])+','+yLP(r[0])))
  .concat(denseGrayRows.slice().reverse().map(r=>xFC(r[2])+','+yLP(r[0])));
const grayMass=el('polygon',{points:grayPts.join(' '),fill:'#808080',stroke:'#808080','stroke-width':8,'stroke-linejoin':'round'},volG);


grayOutliers.forEach(p=>{
  const c=el('circle',{cx:xFC(p[0]),cy:yLP(p[1]),r:10,fill:'#858585','fill-opacity':.9},volG);
  
  
});
function cloudPts(rows){
  return rows.map(r=>xFC(r[1])+','+yLP(r[0])).concat(rows.slice().reverse().map(r=>xFC(r[2])+','+yLP(r[0]))).join(' ');
}
const downMass=el('polygon',{points:cloudPts(denseDownRows),fill:'#3f84c8',stroke:'#3f84c8','stroke-width':8,'stroke-linejoin':'round'},volG);


const upMass=el('polygon',{points:cloudPts(denseUpRows),fill:'#e94e1b',stroke:'#e94e1b','stroke-width':8,'stroke-linejoin':'round'},volG);


upStrips.forEach(s=>{
  const l=el('line',{x1:xFC(s[1]),x2:xFC(s[2]),y1:yLP(s[0]),y2:yLP(s[0]),stroke:'#e94e1b','stroke-width':20,'stroke-linecap':'round'},volG);
  
  
});
downStrips.forEach(s=>{
  const l=el('line',{x1:xFC(s[1]),x2:xFC(s[2]),y1:yLP(s[0]),y2:yLP(s[0]),stroke:'#4a8acb','stroke-width':20,'stroke-linecap':'round'},volG);
  
  
});
downOutliers.forEach(p=>{
  const c=el('circle',{cx:xFC(p[0]),cy:yLP(p[1]),r:10,fill:'#5b8fd0','fill-opacity':.95},volG);
  
  
});
upOutliers.forEach(p=>{
  const c=el('circle',{cx:xFC(p[0]),cy:yLP(p[1]),r:10,fill:'#ee6a35','fill-opacity':.95},volG);
  
  
});
volcanoThresholds.logFC.forEach(v=>{
  const l=el('line',{x1:xFC(v),x2:xFC(v),y1:1780,y2:2816,stroke:'#111','stroke-width':3.5,'stroke-dasharray':'11 7'},volG);
  
  
});
volcanoThresholds.logP.forEach(v=>{
  const l=el('line',{x1:3067,x2:3726,y1:yLP(v),y2:yLP(v),stroke:'#111','stroke-width':3.5,'stroke-dasharray':'11 7'},volG);
  
  
});
</script>
</body>
</html>
